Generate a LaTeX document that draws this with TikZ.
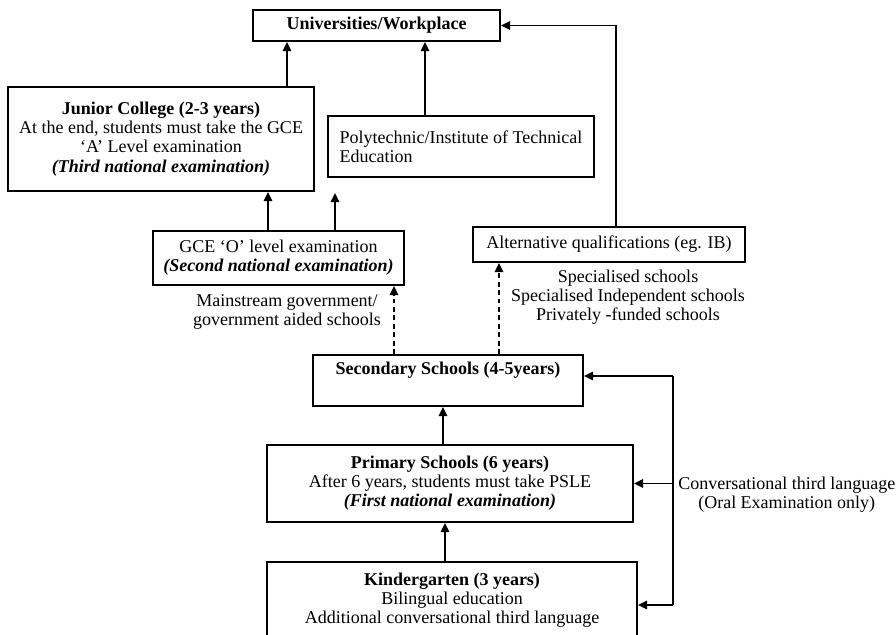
\documentclass[tikz,border=0pt]{standalone}
\usepackage{fontspec}
\setmainfont{Liberation Serif}
\usetikzlibrary{arrows.meta}

\begin{document}
\begin{tikzpicture}[x=0.025cm,y=-0.025cm,
  every node/.style={font=\fontsize{12.8pt}{13.6pt}\selectfont,inner sep=0pt},
  box/.style={draw,line width=1.25pt,align=center},
  arr/.style={line width=1.25pt,-{Triangle[width=6pt,length=6.5pt]}},
  darr/.style={arr,dash pattern=on 3.5pt off 2.5pt}]
\useasboundingbox (0,0) rectangle (896,634);
\node[box,minimum width=6.175cm,minimum height=0.775cm] (uni) at (376.5,25.5) {\textbf{Universities/Workplace}};
\node[box,minimum width=7.65cm,minimum height=2.6cm] (jc) at (161,139) {\textbf{Junior College (2-3 years)}\\At the end, students must take the GCE\\‘A’ Level examination\\\textbf{\textit{(Third national examination)}}};
\node[box,align=left,minimum width=6.65cm,minimum height=1.525cm] (poly) at (461,146.5) {Polytechnic/Institute of Technical\\Education};
\node[box,minimum width=6.275cm,minimum height=1.35cm] (gceo) at (278.5,258) {GCE ‘O’ level examination\\\textbf{\textit{(Second national examination)}}};
\node[box,minimum width=6.8cm,minimum height=0.875cm] (alt) at (609,244.5) {Alternative qualifications (eg. IB)};
\node[align=center] (main) at (287,312) {Mainstream government/\\government aided schools};
\node[align=center] (spec) at (628,297) {Specialised schools\\Specialised Independent schools\\Privately -funded schools};
\node[box,minimum width=6.75cm,minimum height=1.275cm] (sec) at (448,380.5) {\textbf{Secondary Schools (4-5years)}\\\strut};
\node[box,minimum width=9.15cm,minimum height=1.925cm] (pri) at (450,483.5) {\textbf{Primary Schools (6 years)}\\After 6 years, students must take PSLE\\\textbf{\textit{(First national examination)}}};
\node[box,minimum width=9.25cm,minimum height=1.9cm] (kg) at (452,600) {\textbf{Kindergarten (3 years)}\\Bilingual education\\Additional conversational third language};
\node[anchor=west,align=center] (conv) at (678,495) {Conversational third language\\(Oral Examination only)};
% upward links
\draw[arr] (jc.north -| 287,0) -- (uni.south -| 287,0);
\draw[arr] (poly.north -| 425,0) -- (uni.south -| 425,0);
\draw[arr] (alt.north -| 616,0) |- (uni.east);
\draw[arr] (gceo.north -| 268,0) -- (jc.south -| 268,0);
\coordinate (gp) at (335,193);
\draw[arr] (gceo.north -| gp) -- (gp);
\draw[darr] (sec.north -| 394,0) -- (gceo.south -| 394,0);
\draw[darr] (sec.north -| 499,0) -- (alt.south -| 499,0);
\draw[arr] (pri.north -| 443,0) -- (sec.south -| 443,0);
\draw[arr] (kg.north -| 445,0) -- (pri.south -| 445,0);
% third language
\coordinate (bt) at (673,376);
\coordinate (bb) at (673,605);
\draw[line width=1.25pt] (bt) -- (bb);
\draw[arr] (bt) -- (sec.east |- bt);
\draw[arr] (pri.east -| bt) -- (pri.east);
\draw[arr] (bb) -- (kg.east |- bb);
\end{tikzpicture}
\end{document}
